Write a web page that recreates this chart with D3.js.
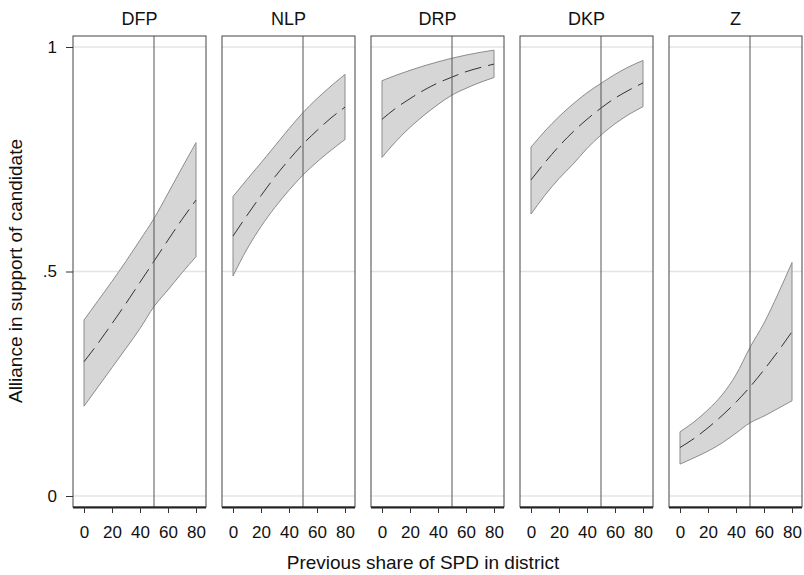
<!DOCTYPE html>
<html>
<head>
<meta charset="utf-8">
<script src="https://cdn.jsdelivr.net/npm/d3@7"></script>
<style>
  body { margin: 0; background: #fff; }
  svg { font-family: "Liberation Sans", Arial, sans-serif; }
</style>
</head>
<body>
<svg id="chart" width="804" height="575"></svg>
<script>
// parties, one panel each
const parties = ["DFP", "NLP", "DRP", "DKP", "Z"];
const xValues = [0, 10, 20, 30, 40, 50, 60, 70, 80];
const xTicks = [0, 20, 40, 60, 80];
const yTicks = [0, 0.5, 1];
const yTickLabels = ["0", ".5", "1"];

// predicted share (dashed) with upper / lower bounds
const meanDFP  = [0.299, 0.340, 0.384, 0.429, 0.476, 0.523, 0.570, 0.616, 0.659];
const upperDFP = [0.392, 0.435, 0.478, 0.523, 0.570, 0.618, 0.674, 0.731, 0.787];
const lowerDFP = [0.200, 0.243, 0.286, 0.329, 0.373, 0.422, 0.459, 0.497, 0.533];

const meanNLP  = [0.579, 0.625, 0.669, 0.711, 0.749, 0.784, 0.814, 0.842, 0.866];
const upperNLP = [0.667, 0.705, 0.742, 0.780, 0.818, 0.854, 0.885, 0.913, 0.939];
const lowerNLP = [0.490, 0.550, 0.600, 0.643, 0.681, 0.715, 0.744, 0.770, 0.794];

const meanDRP  = [0.839, 0.864, 0.885, 0.904, 0.920, 0.933, 0.945, 0.954, 0.962];
const upperDRP = [0.925, 0.937, 0.948, 0.958, 0.967, 0.975, 0.982, 0.988, 0.993];
const lowerDRP = [0.754, 0.790, 0.821, 0.848, 0.872, 0.893, 0.908, 0.921, 0.932];

const meanDKP  = [0.704, 0.743, 0.779, 0.811, 0.839, 0.864, 0.886, 0.904, 0.920];
const upperDKP = [0.777, 0.813, 0.845, 0.873, 0.898, 0.919, 0.939, 0.956, 0.970];
const lowerDKP = [0.628, 0.670, 0.707, 0.739, 0.774, 0.804, 0.829, 0.850, 0.867];

const meanZ  = [0.108, 0.128, 0.152, 0.179, 0.209, 0.243, 0.281, 0.322, 0.366];
const upperZ = [0.143, 0.165, 0.192, 0.225, 0.270, 0.331, 0.385, 0.450, 0.520];
const lowerZ = [0.071, 0.085, 0.100, 0.118, 0.140, 0.163, 0.178, 0.195, 0.212];

const means  = [meanDFP, meanNLP, meanDRP, meanDKP, meanZ];
const uppers = [upperDFP, upperNLP, upperDRP, upperDKP, upperZ];
const lowers = [lowerDFP, lowerNLP, lowerDRP, lowerDKP, lowerZ];
const cutoff = 50;

const svg = d3.select("#chart");

const panelLeft = 73, panelStep = 149, panelW = 133;
const panelTop = 36, panelBottom = 507;

const y = d3.scaleLinear().domain([0, 1]).range([496, 47]);

parties.forEach((party, i) => {
    const left = panelLeft + i * panelStep;
    const x = d3.scaleLinear().domain([0, 80]).range([left + 11, left + 123]);
    const g = svg.append("g").attr("class", "panel");

    const rows = xValues.map((v, k) => ({ x: v, m: means[i][k], lo: lowers[i][k], hi: uppers[i][k] }));

    // gridlines
    g.selectAll(".grid")
        .data(yTicks)
        .enter()
        .append("line")
        .attr("class", "grid")
        .attr("x1", left)
        .attr("x2", left + panelW)
        .attr("y1", d => y(d))
        .attr("y2", d => y(d))
        .attr("stroke", "#e4e4e4")
        .attr("stroke-width", 1.5);

    // confidence band
    const area = d3.area()
        .x(d => x(d.x))
        .y0(d => y(d.lo))
        .y1(d => y(d.hi))
        .curve(d3.curveMonotoneX);
    g.append("path")
        .datum(rows)
        .attr("d", area)
        .attr("fill", "#d6d6d6")
        .attr("stroke", "#8c8c8c")
        .attr("stroke-width", 1);

    // dashed prediction
    const line = d3.line()
        .x(d => x(d.x))
        .y(d => y(d.m))
        .curve(d3.curveMonotoneX);
    g.append("path")
        .datum(rows)
        .attr("d", line)
        .attr("fill", "none")
        .attr("stroke", "#333")
        .attr("stroke-width", 1)
        .attr("stroke-dasharray", "17 7");

    // vertical reference line at 50
    g.append("line")
        .attr("x1", x(cutoff))
        .attr("x2", x(cutoff))
        .attr("y1", panelTop)
        .attr("y2", panelBottom)
        .attr("stroke", "#555")
        .attr("stroke-width", 1);

    // frame
    g.append("rect")
        .attr("x", left)
        .attr("y", panelTop)
        .attr("width", panelW)
        .attr("height", panelBottom - panelTop)
        .attr("fill", "none")
        .attr("stroke", "#444")
        .attr("stroke-width", 1);

    // x axis
    const xAxis = d3.axisBottom(x)
        .tickValues(xTicks)
        .tickSize(6)
        .tickPadding(13)
        .tickSizeOuter(0);
    const ax = g.append("g")
        .attr("transform", `translate(0,${panelBottom})`)
        .call(xAxis);
    ax.select(".domain")
        .attr("d", `M${left},0.5H${left + panelW}`)
        .attr("stroke", "#222")
        .attr("stroke-width", 1.8);
    ax.selectAll(".tick line").attr("stroke", "#333");
    ax.selectAll(".tick text")
        .attr("font-size", "17px")
        .attr("fill", "#111");

    // panel title
    g.append("text")
        .attr("x", left + panelW / 2)
        .attr("y", 25)
        .attr("text-anchor", "middle")
        .attr("font-size", "18px")
        .attr("fill", "#111")
        .text(party);
});

// y axis on the first panel
const yAxis = d3.axisLeft(y)
    .tickValues(yTicks)
    .tickFormat((d, i) => yTickLabels[i])
    .tickSize(7)
    .tickPadding(9)
    .tickSizeOuter(0);
const ay = svg.append("g")
    .attr("transform", `translate(${panelLeft},0)`)
    .call(yAxis);
ay.select(".domain").remove();
ay.selectAll(".tick line").attr("stroke", "#333");
ay.selectAll(".tick text")
    .attr("font-size", "17px")
    .attr("fill", "#111");

// axis titles
svg.append("text")
    .attr("x", 423)
    .attr("y", 569)
    .attr("text-anchor", "middle")
    .attr("font-size", "19px")
    .attr("fill", "#111")
    .text("Previous share of SPD in district");

svg.append("text")
    .attr("transform", `translate(22,271) rotate(-90)`)
    .attr("text-anchor", "middle")
    .attr("font-size", "19px")
    .attr("fill", "#111")
    .text("Alliance in support of candidate");
</script>
</body>
</html>
